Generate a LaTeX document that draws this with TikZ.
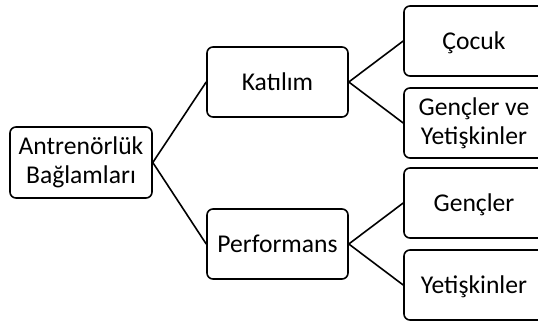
\documentclass[tikz,border=0pt]{standalone}
\usepackage{fontspec}
\setmainfont{Carlito}
\begin{document}
\begin{tikzpicture}[x=1pt,y=-1pt,
  box/.style={draw=black,line width=1.6pt,rounded corners=6pt,fill=white,
    minimum width=141pt,minimum height=70pt,inner sep=0pt,align=center,
    font=\fontsize{25.6}{29}\selectfont},
  one/.style={text height=20pt,text depth=4pt},
  link/.style={line width=1.6pt}]
\useasboundingbox (0,0) rectangle (538,321);
\clip (0,0) rectangle (538,321);
\node[box,minimum width=142pt,minimum height=71pt] (root) at (81,162.5) {Antrenörlük\\Bağlamları};
\node[box,one] (kat) at (277.5,82) {Katılım};
\node[box,one] (perf) at (277.5,244) {Performans};
\node[box,one,minimum width=140pt] (cocuk) at (474,41) {Çocuk};
\node[box,minimum width=140pt] (gy) at (474,123) {Gençler ve\\Yetişkinler};
\node[box,one,minimum width=140pt] (genc) at (474,203) {Gençler};
\node[box,one,minimum width=140pt] (yet) at (474,285) {Yetişkinler};
\draw[link] (root.east) -- (kat.west);
\draw[link] (root.east) -- (perf.west);
\draw[link] (kat.east) -- (cocuk.west);
\draw[link] (kat.east) -- (gy.west);
\draw[link] (perf.east) -- (genc.west);
\draw[link] (perf.east) -- (yet.west);
\end{tikzpicture}
\end{document}
